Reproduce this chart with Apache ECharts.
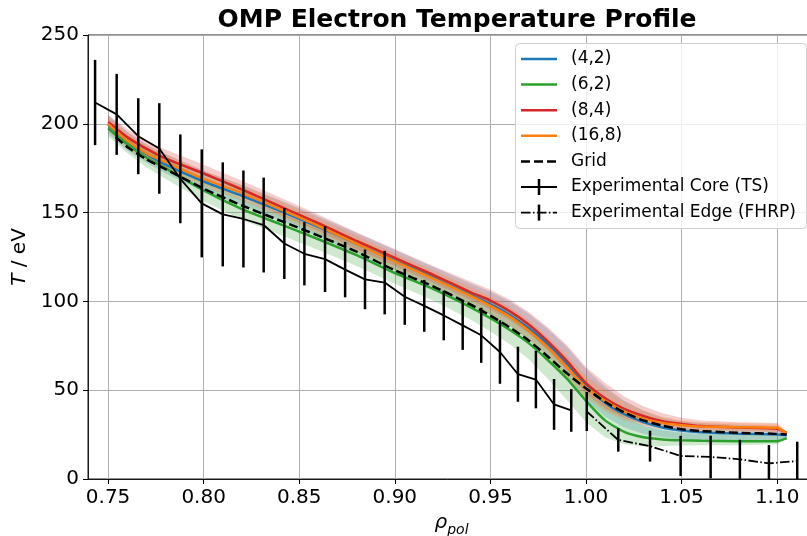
<!DOCTYPE html>
<html>
<head>
<meta charset="utf-8">
<title>OMP Electron Temperature Profile</title>
<script src="https://cdn.jsdelivr.net/npm/echarts@6/dist/echarts.min.js"></script>
<style>
  html, body { margin: 0; padding: 0; background: #fff; }
  #chart { width: 807px; height: 536px; }
</style>
</head>
<body>
<div id="chart"></div>
<script>
// simulation profiles (rho_pol grid shared by the four cases)
const rho = [0.75, 0.76, 0.77, 0.78, 0.80, 0.82, 0.84, 0.86, 0.88, 0.90, 0.92, 0.94, 0.95, 0.96, 0.97, 0.98, 0.99, 1.00, 1.01, 1.02, 1.03, 1.04, 1.05, 1.06, 1.08, 1.10, 1.105]

const te42 = [199.5, 190, 183, 177, 167.5, 159.5, 151, 142, 132.5, 123, 113.5, 103.5, 98.5, 92.5, 85, 76, 65, 52.5, 43, 36.5, 32, 29, 27.3, 26.3, 25.5, 25.1, 24.6]
const te62 = [197.5, 188.5, 181, 175, 162.5, 152, 143.5, 135, 126, 116, 107, 96.5, 90.5, 84, 76.5, 67, 56.5, 44, 33, 26.5, 23.5, 22.3, 21.8, 21.5, 21.3, 21.3, 23]
const te84 = [201, 192.5, 186, 180.5, 172, 163, 153.5, 144, 134, 124.5, 115, 105, 100.5, 94.5, 87, 77.5, 66.5, 54, 45.5, 39.5, 35.5, 32.5, 31, 29.8, 29, 28.3, 26]
const te168 = [200, 190.5, 183.5, 178.5, 169, 161, 152, 142.5, 132.5, 122.5, 113, 103, 97.5, 91.5, 83.5, 74, 63, 51.5, 44, 38, 34, 31.5, 30.3, 29.5, 29.2, 28.8, 25.6]

// uncertainty bands (lower / upper)
const low42 = [194.5, 185, 178, 172, 162, 154, 145.5, 136.5, 127, 117.5, 108, 97.5, 92.5, 86.5, 78.5, 69, 57.5, 44.5, 35, 29, 25.5, 23.5, 22.5, 22, 21.8, 22, 23.5]
const high42 = [205, 195.5, 188.5, 183, 173.5, 165.5, 157, 148, 138.5, 129, 119.5, 110, 105.5, 100, 93, 84.5, 74.5, 62, 52, 44, 38.5, 34.5, 32.5, 31.5, 30.5, 30, 25.5]
const low62 = [193, 183.5, 175.5, 169, 156.5, 146, 137.5, 129, 120, 110, 100.5, 89.5, 83, 76, 67.5, 56.5, 44.5, 32, 23.5, 19.5, 18.5, 18.5, 18.8, 19, 19, 19.5, 22.5]
const high62 = [202, 193, 186, 180.5, 168.5, 158, 149.5, 141, 132, 122, 113, 103, 97.5, 91.5, 85, 76.5, 67, 55, 43.5, 35, 30, 27.5, 26, 25.3, 25, 24.8, 23.5]
const low84 = [197, 188, 181.5, 176, 167.5, 158.5, 149, 139.5, 129.5, 120, 110.5, 100.5, 95.5, 89.5, 82, 72.5, 61, 48, 39.5, 34.5, 31, 29, 28, 27.5, 27, 26.5, 25.5]
const high84 = [205, 197, 190.5, 185.5, 177, 168, 158.5, 149, 139, 129.5, 120, 111, 106.5, 101, 94, 85.5, 75.5, 63, 54, 46.5, 41, 37, 34.5, 33, 32, 31.5, 26.5]
const low168 = [196, 186, 179, 174, 164.5, 156.5, 147.5, 138, 128, 118, 108.5, 98, 92.5, 86.5, 78, 68.5, 57, 45.5, 38, 33, 30, 28, 27.5, 27, 26.5, 26.3, 25]
const high168 = [204, 195, 188, 183, 173.5, 165.5, 156.5, 147, 137, 127, 117.5, 108, 103, 97, 89.5, 80, 69.5, 58, 50.5, 43.5, 38.5, 35, 33, 32, 31.5, 31, 26.2]

// grid reference profile
const gridRho = [0.754, 0.76, 0.77, 0.78, 0.80, 0.82, 0.84, 0.86, 0.88, 0.90, 0.92, 0.94, 0.95, 0.96, 0.97, 0.98, 0.99, 1.00, 1.01, 1.02, 1.03, 1.04, 1.05, 1.06, 1.08, 1.10, 1.105]
const gridTe = [192.5, 187, 180, 174.5, 163.5, 154, 145.5, 137, 128, 117.5, 108.5, 98, 92, 85.5, 78, 69, 59.5, 51, 43.5, 37.5, 33, 30, 28, 27, 26, 25.4, 25]

// experimental core (Thomson scattering)
const coreRho = [0.7432, 0.7545, 0.7658, 0.7768, 0.7878, 0.7990, 0.8100, 0.8208, 0.8314, 0.8422, 0.8527, 0.8635, 0.8740, 0.8844, 0.8947, 0.9052, 0.9154, 0.9256, 0.9355, 0.9452, 0.9550, 0.9644, 0.9738, 0.9833, 0.9923]
const coreTe = [212, 205.3, 193, 186.1, 169, 155.2, 149, 146.4, 143, 132.6, 126.8, 123.8, 117.9, 112.4, 110.6, 102.6, 97.5, 92.1, 86.5, 80.9, 71.5, 59, 56, 42, 38.6]
const coreErr = [24, 22.8, 21.4, 25.5, 25, 30.4, 29.3, 27.3, 26.7, 20, 17.8, 18.5, 15.6, 16.8, 17.9, 15.8, 14.6, 14, 13.8, 15.5, 17.9, 15.5, 16.2, 14.3, 12]

// experimental edge (FHRP)
const edgeRho = [1.0004, 1.0169, 1.0335, 1.0495, 1.0652, 1.0805, 1.0957, 1.1105]
const edgeTe = [38, 22, 18.5, 13, 12.4, 11.1, 8.8, 10.1]
const edgeErr = [11, 6.6, 8.7, 11.3, 12, 11, 10.3, 10.9]

const xTicks = [0.75, 0.80, 0.85, 0.90, 0.95, 1.00, 1.05, 1.10]

const FONT = 'DejaVu Sans'
const cases = [
  { name: '(4,2)', color: '#1f77b4', fill: 'rgba(31,119,180,0.23)', te: te42, low: low42, high: high42 },
  { name: '(6,2)', color: '#2ca02c', fill: 'rgba(44,160,44,0.23)', te: te62, low: low62, high: high62 },
  { name: '(8,4)', color: '#d62728', fill: 'rgba(214,39,40,0.23)', te: te84, low: low84, high: high84 },
  { name: '(16,8)', color: '#ff7f0e', fill: 'rgba(255,127,14,0.23)', te: te168, low: low168, high: high168 }
]

const pairs = (xs, ys) => xs.map((x, i) => [x, ys[i]])

// shaded band drawn once as a polygon through the axis scales
function bandSeries (c) {
  return {
    type: 'custom',
    silent: true,
    z: 1,
    clip: true,
    data: rho.map((r, i) => [r, c.low[i], c.high[i]]),
    encode: { x: 0, y: [1, 2] },
    renderItem (params, api) {
      if (params.dataIndexInside !== 0) return
      const n = params.dataInsideLength
      const top = []
      const bottom = []
      for (let i = 0; i < n; i++) {
        top.push(api.coord([api.value(0, i), api.value(2, i)]))
        bottom.push(api.coord([api.value(0, i), api.value(1, i)]))
      }
      return {
        type: 'polygon',
        shape: { points: top.concat(bottom.reverse()) },
        style: { fill: c.fill, stroke: null }
      }
    }
  }
}

function errorSeries (xs, ys, errs) {
  return {
    type: 'custom',
    silent: true,
    z: 6,
    clip: true,
    data: xs.map((x, i) => [x, ys[i] - errs[i], ys[i] + errs[i]]),
    encode: { x: 0, y: [1, 2] },
    renderItem (params, api) {
      const lo = api.coord([api.value(0), api.value(1)])
      const hi = api.coord([api.value(0), api.value(2)])
      return {
        type: 'line',
        shape: { x1: lo[0], y1: lo[1], x2: hi[0], y2: hi[1] },
        style: { stroke: '#000', lineWidth: 2.5 }
      }
    }
  }
}

const series = []
cases.forEach(c => series.push(bandSeries(c)))
cases.forEach(c => {
  series.push({
    name: c.name,
    type: 'line',
    data: pairs(rho, c.te),
    symbol: 'none',
    smooth: 0.2,
    z: 3,
    lineStyle: { color: c.color, width: 2.5 }
  })
})
series.push({
  name: 'Grid',
  type: 'line',
  data: pairs(gridRho, gridTe),
  symbol: 'none',
  smooth: 0.2,
  z: 4,
  lineStyle: { color: '#000', width: 2.5, type: [9, 4] }
})
series.push({
  name: 'Experimental Core (TS)',
  type: 'line',
  data: pairs(coreRho, coreTe),
  symbol: 'none',
  z: 5,
  lineStyle: { color: '#000', width: 1.8 }
})
series.push(errorSeries(coreRho, coreTe, coreErr))
series.push({
  name: 'Experimental Edge (FHRP)',
  type: 'line',
  data: pairs(edgeRho, edgeTe),
  symbol: 'none',
  z: 5,
  lineStyle: { color: '#000', width: 1.8, type: [9.6, 2.4, 1.5, 2.4] }
})
series.push(errorSeries(edgeRho, edgeTe, edgeErr))

// hand-built legend box (matplotlib style)
const legendRows = [
  { label: '(4,2)', color: '#1f77b4' },
  { label: '(6,2)', color: '#2ca02c' },
  { label: '(8,4)', color: '#d62728' },
  { label: '(16,8)', color: '#ff7f0e' },
  { label: 'Grid', color: '#000', dash: [9, 4] },
  { label: 'Experimental Core (TS)', color: '#000', bar: true, width: 1.8 },
  { label: 'Experimental Edge (FHRP)', color: '#000', bar: true, width: 1.8, dash: [9.6, 2.4, 1.5, 2.4] }
]
const legendGraphics = [{
  type: 'rect',
  z: 100,
  shape: { x: 515.5, y: 43.5, width: 291, height: 185, r: 4 },
  style: { fill: 'rgba(255,255,255,0.8)', stroke: '#d0d0d0', lineWidth: 1 }
}]
legendRows.forEach((row, i) => {
  const y = 59 + i * 25.6
  legendGraphics.push({
    type: 'line',
    z: 101,
    shape: { x1: 521, y1: y, x2: 557, y2: y },
    style: { stroke: row.color, lineWidth: row.width || 2.5, lineDash: row.dash || null }
  })
  if (row.bar) {
    legendGraphics.push({
      type: 'line',
      z: 101,
      shape: { x1: 539, y1: y - 8, x2: 539, y2: y + 8 },
      style: { stroke: '#000', lineWidth: 2.5 }
    })
  }
  legendGraphics.push({
    type: 'text',
    z: 101,
    x: 571,
    y: y,
    style: { text: row.label, fontSize: 17, fontFamily: FONT, fill: '#000', verticalAlign: 'middle' }
  })
})

const chart = echarts.init(document.getElementById('chart'))
chart.setOption({
  animation: false,
  backgroundColor: '#fff',
  textStyle: { fontFamily: FONT },
  title: {
    text: 'OMP Electron Temperature Profile',
    left: 452,
    top: 3,
    textAlign: 'center',
    textStyle: { fontFamily: FONT, fontSize: 25, fontWeight: 'bold', color: '#000' }
  },
  grid: {
    left: 88,
    right: -8,
    top: 35,
    bottom: 57,
    outerBoundsMode: 'none',
    containLabel: false,
    show: true,
    borderColor: '#1a1a1a',
    borderWidth: 1
  },
  xAxis: {
    type: 'value',
    min: 0.7395,
    max: 1.1198,
    name: '{r|ρ}{s|pol}',
    nameLocation: 'middle',
    nameGap: 34,
    nameTextStyle: {
      rich: {
        r: { fontFamily: FONT, fontSize: 20, fontStyle: 'italic', color: '#000', lineHeight: 24, verticalAlign: 'top' },
        s: { fontFamily: FONT, fontSize: 14, fontStyle: 'italic', color: '#000', lineHeight: 14, verticalAlign: 'bottom' }
      }
    },
    axisLine: { show: true, onZero: false, lineStyle: { color: '#1a1a1a', width: 1 } },
    axisTick: { show: true, length: 5, customValues: xTicks, lineStyle: { color: '#000' } },
    axisLabel: { customValues: xTicks, formatter: v => v.toFixed(2), fontSize: 20, color: '#000', margin: 9, fontFamily: FONT },
    splitLine: { show: true, lineStyle: { color: '#b0b0b0', width: 1 } }
  },
  yAxis: {
    type: 'value',
    min: 0,
    max: 250,
    interval: 50,
    name: '{i|T} / eV',
    nameLocation: 'middle',
    nameGap: 54,
    nameTextStyle: {
      fontFamily: FONT,
      fontSize: 20,
      color: '#000',
      rich: { i: { fontFamily: FONT, fontSize: 20, fontStyle: 'italic', color: '#000' } }
    },
    axisLine: { show: true, lineStyle: { color: '#1a1a1a', width: 1 } },
    axisTick: { show: true, length: 5, lineStyle: { color: '#000' } },
    axisLabel: { fontSize: 20, color: '#000', margin: 9, fontFamily: FONT },
    splitLine: { show: true, lineStyle: { color: '#b0b0b0', width: 1 } }
  },
  graphic: legendGraphics,
  series: series
})
</script>
</body>
</html>
